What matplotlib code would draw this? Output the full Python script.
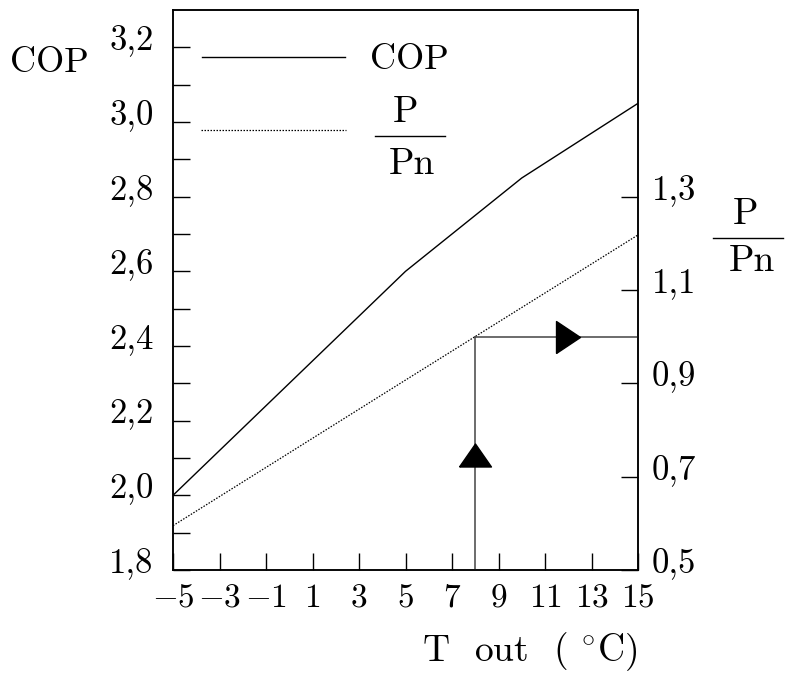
import matplotlib
matplotlib.use("Agg")
import matplotlib.pyplot as plt
from matplotlib.lines import Line2D
from matplotlib.transforms import ScaledTranslation

plt.rcParams['font.family'] = ['cmr10', 'DejaVu Serif']
plt.rcParams['mathtext.fontset'] = 'cm'

# data
t_cop = [-5, 5, 10, 15]
cop = [2.0, 2.6, 2.85, 3.05]
t_p = [-5, 5, 15]
p_ratio = [0.595, 0.907, 1.218]

# operating point (design temperature 8 °C, P/Pn = 1)
t_design = 8
p_design = 1.0
arrow_up = (8, 0.746)
arrow_right = (12, 1.0)

x_ticks = [-5, -3, -1, 1, 3, 5, 7, 9, 11, 13, 15]
x_labels = [r'$%d$' % v for v in x_ticks]
cop_ticks = [1.8, 2.0, 2.2, 2.4, 2.6, 2.8, 3.0, 3.2]
cop_labels = ['1,8', '2,0', '2,2', '2,4', '2,6', '2,8', '3,0', '3,2']
cop_minor = [1.9, 2.1, 2.3, 2.5, 2.7, 2.9, 3.1]
p_ticks = [0.5, 0.7, 0.9, 1.1, 1.3]
p_labels = ['0,5', '0,7', '0,9', '1,1', '1,3']

W, H = 785, 677
fig = plt.figure(figsize=(W / 100, H / 100), dpi=100)
ax = fig.add_axes([173 / W, 107 / H, 465 / W, 560 / H])
ax2 = ax.twinx()


def fx(x):
    return x / W


def fy(y):
    return 1 - y / H


# courbes
ax.plot(t_cop, cop, color='black', lw=1.0)
ax2.plot(t_p, p_ratio, color='black', lw=0.9, linestyle=(0, (1.2, 1.2)))

# point de fonctionnement
ax2.plot([t_design, t_design], [0.5, p_design], color='#444444', lw=1.1)
ax2.plot([t_design, 15], [p_design, p_design], color='#444444', lw=1.1)
up = [(-1, -0.72), (1, -0.72), (0, 0.72), (-1, -0.72)]
right = [(-0.75, -1), (-0.75, 1), (0.75, 0), (-0.75, -1)]
ax2.plot([arrow_up[0]], [arrow_up[1]], marker=up, color='black', markersize=23, linestyle='none')
ax2.plot([arrow_right[0]], [arrow_right[1]], marker=right, color='black', markersize=23, linestyle='none')

ax.set_xlim(-5, 15)
ax.set_ylim(1.8, 3.3)
ax2.set_ylim(0.5, 1.7)

ax.set_xticks(x_ticks)
ax.set_xticklabels(x_labels, fontsize=24)
ax.set_yticks(cop_ticks)
ax.set_yticklabels(cop_labels, fontsize=25)
ax.set_yticks(cop_minor, minor=True)
ax2.set_yticks(p_ticks)
ax2.set_yticklabels(p_labels, fontsize=25)

ax.tick_params(axis='x', direction='in', length=12.5, width=1.0, pad=10, top=False)
ax.tick_params(axis='y', which='both', direction='in', length=12.5, width=1.0, pad=14, right=False)
ax2.tick_params(axis='y', direction='in', length=12.5, width=1.0, pad=10)

# labels sit slightly above their ticks
for lab in ax.get_yticklabels() + ax2.get_yticklabels():
    lab.set_transform(lab.get_transform() + ScaledTranslation(0, 7.5 / 72, fig.dpi_scale_trans))

for a in (ax, ax2):
    for s in a.spines.values():
        s.set_linewidth(1.1)

# titres des axes
fig.text(fx(49), fy(63), 'COP', fontsize=26, ha='center', va='center')
fig.text(fx(637), fy(652), r'T  out  ( $^{\circ}$C)', fontsize=27, ha='right', va='center')

# fraction P/Pn a droite
fig.text(fx(746), fy(214), 'P', fontsize=27, ha='center', va='center')
fig.text(fx(752), fy(261), 'Pn', fontsize=27, ha='center', va='center')
fig.add_artist(Line2D([fx(713), fx(783)], [fy(238), fy(238)], color='black', lw=1.0))

# legende
fig.add_artist(Line2D([fx(202), fx(345)], [fy(57), fy(57)], color='black', lw=1.0))
fig.text(fx(409), fy(60), 'COP', fontsize=26, ha='center', va='center')
fig.add_artist(Line2D([fx(201), fx(346)], [fy(130), fy(130)], color='black', lw=0.9,
                      linestyle=(0, (1.2, 1.2))))
fig.text(fx(405), fy(112), 'P', fontsize=27, ha='center', va='center')
fig.text(fx(412), fy(164), 'Pn', fontsize=27, ha='center', va='center')
fig.add_artist(Line2D([fx(375), fx(445)], [fy(136), fy(136)], color='black', lw=1.0))

fig.savefig('out.png', dpi=100)
